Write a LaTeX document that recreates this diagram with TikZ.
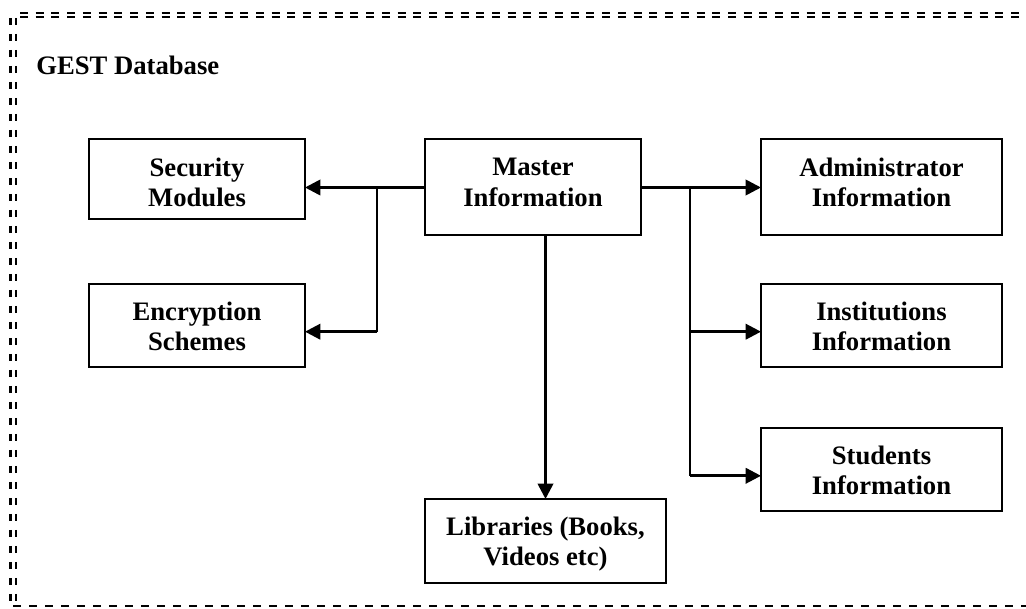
\documentclass[tikz,border=0pt]{standalone}
\usepackage{fontspec}
\setmainfont{Liberation Serif}
\usetikzlibrary{arrows.meta}
\tikzset{
 txt/.style={align=center,font=\bfseries\fontsize{20}{23}\selectfont,inner sep=0pt},
 boxn/.style={draw,line width=1.5pt,inner sep=0pt,outer sep=0pt},
 conn/.style={line width=2pt,-{Triangle[length=11.5pt,width=11.5pt]}},
 trunk/.style={line width=1.6pt},
 frh/.style={line width=1.6pt,dash pattern=on 6pt off 5.8pt},
 frv/.style={line width=1.9pt,dash pattern=on 5.25pt off 6.75pt},
 frb/.style={line width=1.9pt,dash pattern=on 6pt off 6pt}
}
\begin{document}
\begin{tikzpicture}[x=0.75pt,y=-0.75pt]
\useasboundingbox (0,0) rectangle (1026,609);
\fill[white] (0,0) rectangle (1026,609);
% frame
\coordinate (ftl) at (20,13);
\coordinate (ftr) at (1026,13);
\coordinate (fml) at (20,17);
\coordinate (fmr) at (1026,17);
\coordinate (fbl) at (13,606);
\coordinate (fbr) at (1026,606);
\coordinate (val) at (10.5,18);
\coordinate (vab) at (10.5,602);
\coordinate (vbl) at (15.8,18);
\coordinate (vbb) at (15.8,602);
\draw[frh] (ftl) -- (ftr);
\draw[frh] (fml) -- (fmr);
\draw[frb] (fbl) -- (fbr);
\draw[frv] (val) -- (vab);
\draw[frv] (vbl) -- (vbb);
\node[txt,anchor=west] (title) at (36,65) {GEST Database};
% boxes
\node[boxn,minimum width=162pt,minimum height=60pt] (sec) at (197,179) {};
\node[boxn,minimum width=162pt,minimum height=62.25pt] (enc) at (197,325.5) {};
\node[boxn,minimum width=162pt,minimum height=72pt] (mas) at (533,187) {};
\node[boxn,minimum width=180.75pt,minimum height=63pt] (lib) at (545.5,541) {};
\node[boxn,minimum width=180.75pt,minimum height=72pt] (adm) at (881.5,187) {};
\node[boxn,minimum width=180.75pt,minimum height=62.25pt] (ins) at (881.5,325.5) {};
\node[boxn,minimum width=180.75pt,minimum height=62.25pt] (stu) at (881.5,469.5) {};
\node[txt] (sect) at (197,182.5) {Security\\Modules};
\node[txt] (enct) at (197,326.5) {Encryption\\Schemes};
\node[txt] (mast) at (533,182.5) {Master\\Information};
\node[txt] (libt) at (545.5,544) {Libraries (Books,\\Videos etc)};
\node[txt] (admt) at (881.5,182.5) {Administrator\\Information};
\node[txt] (inst) at (881.5,326.5) {Institutions\\Information};
\node[txt] (stut) at (881.5,470.5) {Students\\Information};
% connectors
\coordinate (ls) at (mas.west |- 0,187.5);
\coordinate (lbr) at (377,187.5);
\coordinate (lbe) at (377,331.7);
\draw[conn] (ls) -- (sec.east |- ls);
\draw[trunk] (lbr) -- (lbe);
\draw[conn] (lbe) -- (enc.east |- lbe);
\coordinate (rs) at (mas.east |- 0,187.5);
\coordinate (rbr) at (690,187.5);
\coordinate (rbi) at (690,331.7);
\coordinate (rbs) at (690,475.8);
\draw[conn] (rs) -- (adm.west |- rs);
\draw[trunk] (rbr) -- (rbs);
\draw[conn] (rbi) -- (ins.west |- rbi);
\draw[conn] (rbs) -- (stu.west |- rbs);
\coordinate (dn) at (545.5,235);
\draw[conn] (dn) -- (dn |- lib.north);
\end{tikzpicture}
\end{document}
